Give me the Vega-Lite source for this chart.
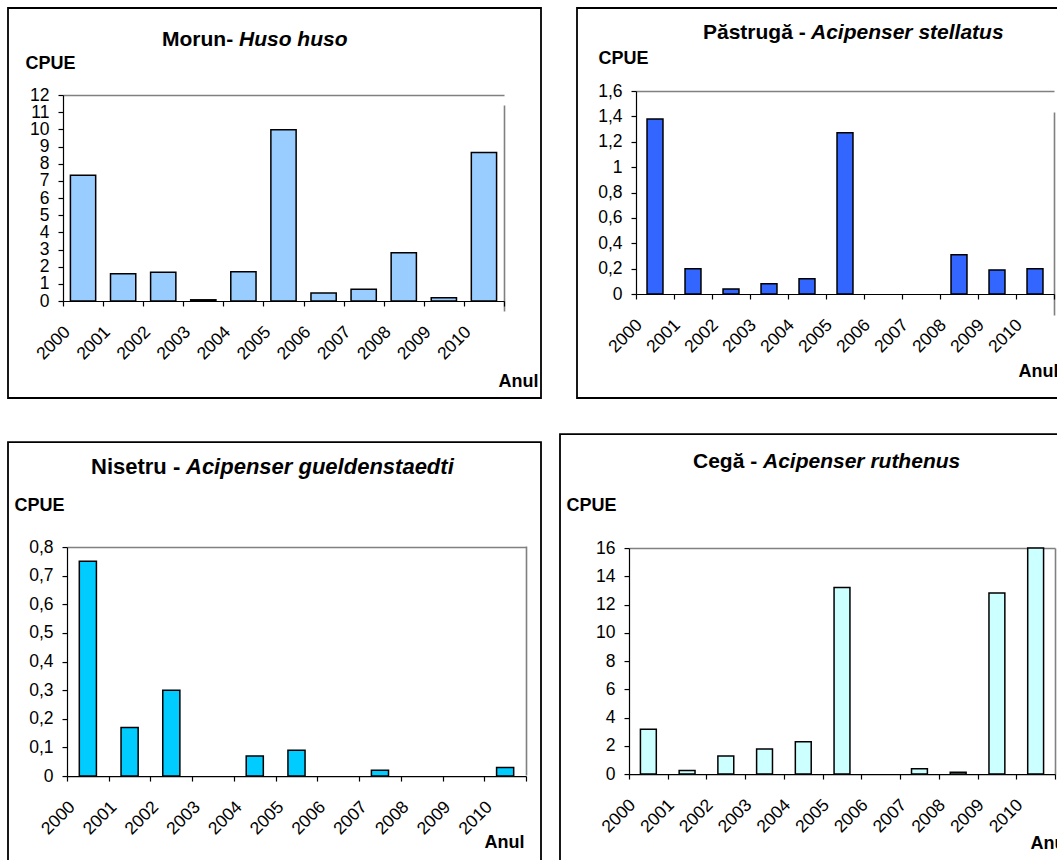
{
  "$schema": "https://vega.github.io/schema/vega-lite/v6.json",
  "padding": {"left": 0, "top": 7, "right": 0, "bottom": 0},
  "data": {
    "values": [
      {"specie": "Morun", "an": 2000, "cpue": 7.33},
      {"specie": "Morun", "an": 2001, "cpue": 1.59},
      {"specie": "Morun", "an": 2002, "cpue": 1.68},
      {"specie": "Morun", "an": 2003, "cpue": 0.07},
      {"specie": "Morun", "an": 2004, "cpue": 1.70},
      {"specie": "Morun", "an": 2005, "cpue": 9.97},
      {"specie": "Morun", "an": 2006, "cpue": 0.46},
      {"specie": "Morun", "an": 2007, "cpue": 0.68},
      {"specie": "Morun", "an": 2008, "cpue": 2.81},
      {"specie": "Morun", "an": 2009, "cpue": 0.19},
      {"specie": "Morun", "an": 2010, "cpue": 8.65},
      {"specie": "Pastruga", "an": 2000, "cpue": 1.38},
      {"specie": "Pastruga", "an": 2001, "cpue": 0.20},
      {"specie": "Pastruga", "an": 2002, "cpue": 0.04},
      {"specie": "Pastruga", "an": 2003, "cpue": 0.08},
      {"specie": "Pastruga", "an": 2004, "cpue": 0.12},
      {"specie": "Pastruga", "an": 2005, "cpue": 1.27},
      {"specie": "Pastruga", "an": 2006, "cpue": 0},
      {"specie": "Pastruga", "an": 2007, "cpue": 0},
      {"specie": "Pastruga", "an": 2008, "cpue": 0.31},
      {"specie": "Pastruga", "an": 2009, "cpue": 0.19},
      {"specie": "Pastruga", "an": 2010, "cpue": 0.20},
      {"specie": "Nisetru", "an": 2000, "cpue": 0.75},
      {"specie": "Nisetru", "an": 2001, "cpue": 0.17},
      {"specie": "Nisetru", "an": 2002, "cpue": 0.30},
      {"specie": "Nisetru", "an": 2003, "cpue": 0},
      {"specie": "Nisetru", "an": 2004, "cpue": 0.07},
      {"specie": "Nisetru", "an": 2005, "cpue": 0.09},
      {"specie": "Nisetru", "an": 2006, "cpue": 0},
      {"specie": "Nisetru", "an": 2007, "cpue": 0.02},
      {"specie": "Nisetru", "an": 2008, "cpue": 0},
      {"specie": "Nisetru", "an": 2009, "cpue": 0},
      {"specie": "Nisetru", "an": 2010, "cpue": 0.03},
      {"specie": "Cega", "an": 2000, "cpue": 3.17},
      {"specie": "Cega", "an": 2001, "cpue": 0.26},
      {"specie": "Cega", "an": 2002, "cpue": 1.28},
      {"specie": "Cega", "an": 2003, "cpue": 1.77},
      {"specie": "Cega", "an": 2004, "cpue": 2.29},
      {"specie": "Cega", "an": 2005, "cpue": 13.21},
      {"specie": "Cega", "an": 2006, "cpue": 0},
      {"specie": "Cega", "an": 2007, "cpue": 0.38},
      {"specie": "Cega", "an": 2008, "cpue": 0.12},
      {"specie": "Cega", "an": 2009, "cpue": 12.81},
      {"specie": "Cega", "an": 2010, "cpue": 16.0}
    ]
  },
  "spacing": 34,
  "vconcat": [
    {
      "spacing": 27,
      "hconcat": [
        {
          "width": 533,
          "height": 390,
          "transform": [{"filter": "datum.specie === 'Morun'"}],
          "title": {
            "text": "Morun-",
            "subtitle": "Huso huso",
            "anchor": "start",
            "frame": "group",
            "offset": -42,
            "dx": 154,
            "fontSize": 21,
            "subtitleFontSize": 21,
            "subtitlePadding": -21,
            "encode": {"subtitle": {"update": {"dx": {"value": 231}}}}
          },
          "mark": {"type": "bar", "fill": "#99CCFF", "stroke": "#000000", "strokeWidth": 1.5, "width": {"band": 0.63}},
          "encoding": {
            "x": {
              "field": "an",
              "type": "ordinal",
              "scale": {"range": [55, 496], "paddingInner": 0, "paddingOuter": 0},
              "axis": {
                "offset": -97,
                "title": "Anul",
                "titleX": 530,
                "titleY": 80,
                "titleAlign": "right",
                "gridOpacity": {"condition": {"test": "datum.value == 2010", "value": 1}, "value": 0}
              }
            },
            "y": {
              "field": "cpue",
              "type": "quantitative",
              "scale": {"domain": [0, 12], "range": [293, 87], "nice": false},
              "axis": {
                "offset": -55,
                "values": [0, 1, 2, 3, 4, 5, 6, 7, 8, 9, 10, 11, 12],
                "title": "CPUE",
                "titleX": -38,
                "titleY": 55,
                "gridOpacity": {"condition": {"test": "datum.value == 12", "value": 1}, "value": 0}
              }
            },
            "strokeOpacity": {"condition": {"test": "datum.cpue == 0", "value": 0}, "value": 1}
          }
        },
        {
          "width": 524,
          "height": 390,
          "transform": [{"filter": "datum.specie === 'Pastruga'"}],
          "title": {
            "text": "Păstrugă -",
            "subtitle": "Acipenser stellatus",
            "anchor": "start",
            "frame": "group",
            "offset": -35,
            "dx": 126,
            "fontSize": 21,
            "subtitleFontSize": 21,
            "subtitlePadding": -21,
            "encode": {"subtitle": {"update": {"dx": {"value": 234}}}}
          },
          "mark": {"type": "bar", "fill": "#3366FF", "stroke": "#000000", "strokeWidth": 1.5, "width": {"band": 0.42}},
          "encoding": {
            "x": {
              "field": "an",
              "type": "ordinal",
              "scale": {"range": [59, 477], "paddingInner": 0, "paddingOuter": 0},
              "axis": {
                "offset": -104,
                "title": "Anul",
                "titleX": 441,
                "titleY": 77,
                "titleAlign": "left",
                "gridOpacity": {"condition": {"test": "datum.value == 2010", "value": 1}, "value": 0}
              }
            },
            "y": {
              "field": "cpue",
              "type": "quantitative",
              "scale": {"domain": [0, 1.6], "range": [286, 83], "nice": false},
              "axis": {
                "offset": -59,
                "values": [0, 0.2, 0.4, 0.6, 0.8, 1, 1.2, 1.4, 1.6],
                "title": "CPUE",
                "titleX": -38,
                "titleY": 50,
                "gridOpacity": {"condition": {"test": "datum.value == 1.6", "value": 1}, "value": 0}
              }
            },
            "strokeOpacity": {"condition": {"test": "datum.cpue == 0", "value": 0}, "value": 1}
          }
        }
      ]
    },
    {
      "spacing": 10,
      "center": true,
      "hconcat": [
        {
          "width": 533,
          "height": 438,
          "transform": [{"filter": "datum.specie === 'Nisetru'"}],
          "title": {
            "text": "Nisetru -",
            "subtitle": "Acipenser gueldenstaedti",
            "anchor": "start",
            "frame": "group",
            "offset": -37,
            "dx": 83,
            "fontSize": 22,
            "subtitleFontSize": 22,
            "subtitlePadding": -22,
            "encode": {"subtitle": {"update": {"dx": {"value": 178}}}}
          },
          "mark": {"type": "bar", "fill": "#00CCFF", "stroke": "#000000", "strokeWidth": 1.5, "width": {"band": 0.41}},
          "encoding": {
            "x": {
              "field": "an",
              "type": "ordinal",
              "scale": {"range": [59, 518], "paddingInner": 0, "paddingOuter": 0},
              "axis": {
                "offset": -104,
                "title": "Anul",
                "titleX": 516,
                "titleY": 66,
                "titleAlign": "right",
                "gridOpacity": {"condition": {"test": "datum.value == 2010", "value": 1}, "value": 0}
              }
            },
            "y": {
              "field": "cpue",
              "type": "quantitative",
              "scale": {"domain": [0, 0.8], "range": [334, 105], "nice": false},
              "axis": {
                "offset": -59,
                "values": [0, 0.1, 0.2, 0.3, 0.4, 0.5, 0.6, 0.7, 0.8],
                "title": "CPUE",
                "titleX": -53,
                "titleY": 63,
                "gridOpacity": {"condition": {"test": "datum.value == 0.8", "value": 1}, "value": 0}
              }
            },
            "strokeOpacity": {"condition": {"test": "datum.cpue == 0", "value": 0}, "value": 1}
          }
        },
        {
          "width": 540,
          "height": 454,
          "transform": [{"filter": "datum.specie === 'Cega'"}],
          "title": {
            "text": "Cegă -",
            "subtitle": "Acipenser ruthenus",
            "anchor": "start",
            "frame": "group",
            "offset": -38,
            "dx": 133,
            "fontSize": 21,
            "subtitleFontSize": 21,
            "subtitlePadding": -21,
            "encode": {"subtitle": {"update": {"dx": {"value": 203}}}}
          },
          "mark": {"type": "bar", "fill": "#CCFFFF", "stroke": "#000000", "strokeWidth": 1.5, "width": {"band": 0.41}},
          "encoding": {
            "x": {
              "field": "an",
              "type": "ordinal",
              "scale": {"range": [69, 495], "paddingInner": 0, "paddingOuter": 0},
              "axis": {
                "offset": -114,
                "title": "Anul",
                "titleX": 470,
                "titleY": 69,
                "titleAlign": "left",
                "gridOpacity": {"condition": {"test": "datum.value == 2010", "value": 1}, "value": 0}
              }
            },
            "y": {
              "field": "cpue",
              "type": "quantitative",
              "scale": {"domain": [0, 16], "range": [340, 114], "nice": false},
              "axis": {
                "offset": -69,
                "values": [0, 2, 4, 6, 8, 10, 12, 14, 16],
                "title": "CPUE",
                "titleX": -63,
                "titleY": 71,
                "gridOpacity": {"condition": {"test": "datum.value == 16", "value": 1}, "value": 0}
              }
            },
            "strokeOpacity": {"condition": {"test": "datum.cpue == 0", "value": 0}, "value": 1}
          }
        }
      ]
    }
  ],
  "config": {
    "font": "Liberation Sans",
    "locale": {"number": {"decimal": ",", "thousands": ".", "grouping": [3], "currency": ["", ""]}},
    "view": {"stroke": "#000000", "strokeWidth": 1.8},
    "title": {
      "font": "Liberation Sans",
      "fontWeight": "bold",
      "color": "#000000",
      "subtitleFont": "Liberation Sans",
      "subtitleFontWeight": "bold",
      "subtitleFontStyle": "italic",
      "subtitleColor": "#000000"
    },
    "axis": {
      "labelFont": "Liberation Sans",
      "titleFont": "Liberation Sans",
      "labelColor": "#000000",
      "titleColor": "#000000",
      "labelFontSize": 17.5,
      "titleFontSize": 18,
      "titleFontWeight": "bold",
      "domainColor": "#000000",
      "domainWidth": 1.2,
      "tickColor": "#000000",
      "tickWidth": 1.2,
      "tickSize": 5,
      "grid": true,
      "gridColor": "#808080",
      "gridWidth": 1.6,
      "labelOverlap": false,
      "labelBound": false,
      "labelFlush": false
    },
    "axisX": {
      "tickBand": "extent",
      "labelAngle": -45,
      "labelAlign": "right",
      "labelBaseline": "middle",
      "labelOffset": -16,
      "labelPadding": 23,
      "titleBaseline": "middle"
    },
    "axisY": {
      "format": "~f",
      "labelPadding": 9,
      "titleAngle": 0,
      "titleAlign": "left",
      "titleBaseline": "middle"
    }
  }
}
